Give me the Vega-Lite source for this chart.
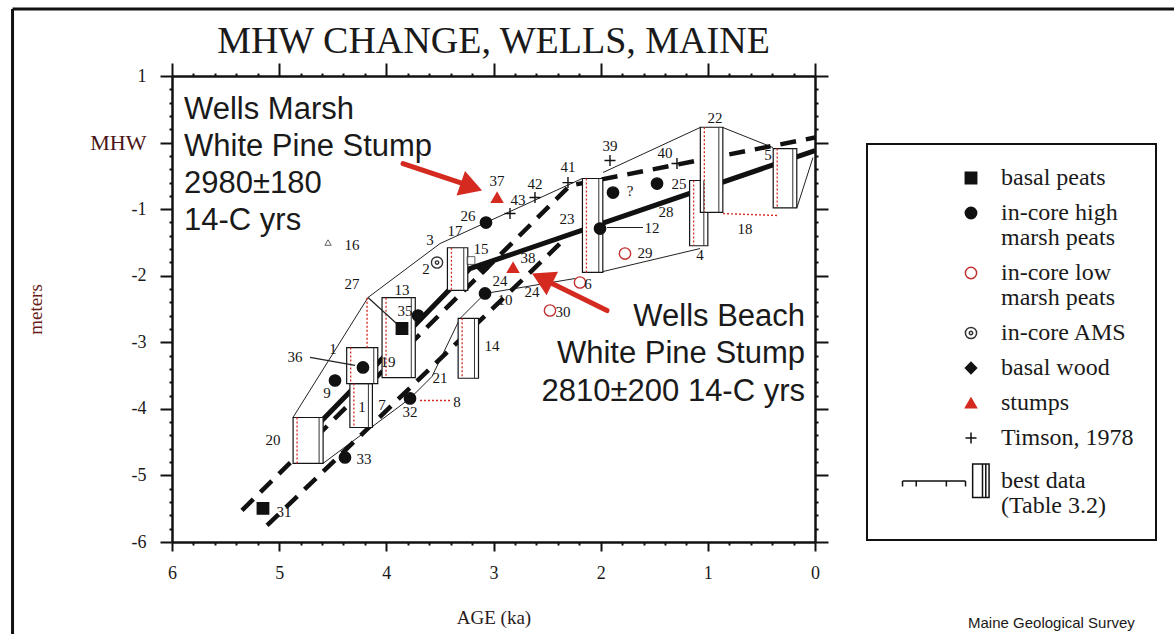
{
  "$schema": "https://vega.github.io/schema/vega-lite/v6.json",
  "width": 643,
  "height": 466,
  "autosize": {"type": "none"},
  "padding": {"left": 172, "top": 76, "right": 359, "bottom": 92},
  "background": "white",
  "title": {"text": "MHW CHANGE, WELLS, MAINE", "font": "Liberation Serif", "fontSize": 38, "fontWeight": "normal", "color": "#1a1a1a", "anchor": "middle", "offset": 5, "dy": 58},
  "config": {
    "view": {"stroke": null},
    "axis": {"grid": false, "domainColor": "#111", "domainWidth": 2.5, "tickColor": "#111", "tickWidth": 2, "labelFont": "Liberation Serif", "labelFontSize": 18, "labelColor": "#1a1a1a", "titleFont": "Liberation Serif", "titleFontSize": 19, "titleFontWeight": "normal", "labelOverlap": false, "labelFlush": false},
    "legend": {"strokeWidth": 2},
    "style": {"guide-label": {"lineHeight": 25}}
  },
  "datasets": {
    "env": [
      {"seg": "U1", "i": 0, "age": 4.871, "m": -4.129}, {"seg": "U1", "i": 1, "age": 4.171, "m": -2.327}, {"seg": "U1", "i": 2, "age": 3.499, "m": -1.517}, {"seg": "U1", "i": 3, "age": 3.07, "m": -1.201}, {"seg": "U1", "i": 4, "age": 2.174, "m": -0.541},
      {"seg": "U2", "i": 0, "age": 1.978, "m": -0.45}, {"seg": "U2", "i": 1, "age": 1.073, "m": 0.225},
      {"seg": "U3", "i": 0, "age": 0.858, "m": 0.225}, {"seg": "U3", "i": 1, "age": 0.392, "m": -0.075},
      {"seg": "L1", "i": 0, "age": 4.591, "m": -4.82}, {"seg": "L1", "i": 1, "age": 3.779, "m": -3.844}, {"seg": "L1", "i": 2, "age": 3.574, "m": -3.514}, {"seg": "L1", "i": 3, "age": 3.313, "m": -2.643}, {"seg": "L1", "i": 4, "age": 3.079, "m": -2.267}, {"seg": "L1", "i": 5, "age": 2.239, "m": -2.042},
      {"seg": "L2", "i": 0, "age": 1.978, "m": -1.937}, {"seg": "L2", "i": 1, "age": 1.073, "m": -1.592},
      {"seg": "L3", "i": 0, "age": 0.168, "m": -0.976}, {"seg": "L3", "i": 1, "age": 0.019, "m": -0.225}
    ],
    "fit": [
      {"line": "dashU", "i": 0, "age": 5.347, "m": -5.526}, {"line": "dashU", "i": 1, "age": 2.286, "m": -0.646}, {"line": "dashU", "i": 2, "age": 0, "m": 0.075},
      {"line": "dashL", "i": 0, "age": 5.113, "m": -5.751}, {"line": "dashL", "i": 1, "age": 2.379, "m": -1.517},
      {"line": "solid", "i": 0, "age": 4.637, "m": -4.234}, {"line": "solid", "i": 1, "age": 3.219, "m": -1.892}, {"line": "solid", "i": 2, "age": 0, "m": -0.12}
    ],
    "boxes": [
      {"a1": 4.87, "a2": 4.59, "m1": -4.13, "m2": -4.82},
      {"a1": 4.34, "a2": 4.13, "m1": -3.62, "m2": -4.28},
      {"a1": 4.37, "a2": 4.08, "m1": -3.08, "m2": -3.62},
      {"a1": 4.04, "a2": 3.73, "m1": -2.33, "m2": -3.53},
      {"a1": 3.43, "a2": 3.24, "m1": -1.58, "m2": -2.22},
      {"a1": 3.33, "a2": 3.14, "m1": -2.64, "m2": -3.54},
      {"a1": 2.17, "a2": 1.98, "m1": -0.54, "m2": -1.95},
      {"a1": 1.17, "a2": 1.0, "m1": -0.57, "m2": -1.55},
      {"a1": 1.07, "a2": 0.86, "m1": 0.23, "m2": -1.05},
      {"a1": 0.39, "a2": 0.17, "m1": -0.09, "m2": -0.98}
    ],
    "brackets": [
      {"a1": 3.686, "a2": 3.406, "m1": -3.874, "m2": -3.874},
      {"a1": 0.858, "a2": 0.345, "m1": -1.066, "m2": -1.096},
      {"a1": 4.18, "a2": 4.18, "m1": -2.33, "m2": -3.08}
    ],
    "pointers": [
      {"seg": "P27", "i": 0, "age": 4.171, "m": -2.327}, {"seg": "P27", "i": 1, "age": 3.854, "m": -2.793},
      {"seg": "P36", "i": 0, "age": 4.712, "m": -3.228}, {"seg": "P36", "i": 1, "age": 4.292, "m": -3.348},
      {"seg": "P12", "i": 0, "age": 1.605, "m": -1.276}, {"seg": "P12", "i": 1, "age": 1.941, "m": -1.276}
    ],
    "pts": [
      {"type": "basal peats", "age": 5.151, "m": -5.495},
      {"type": "basal peats", "age": 3.854, "m": -2.793},
      {"type": "in-core high|marsh peats", "age": 4.386, "m": -4.73},
      {"type": "in-core high|marsh peats", "age": 3.779, "m": -3.844},
      {"type": "in-core high|marsh peats", "age": 4.479, "m": -3.574},
      {"type": "in-core high|marsh peats", "age": 4.218, "m": -3.378},
      {"type": "in-core high|marsh peats", "age": 3.704, "m": -2.598},
      {"type": "in-core high|marsh peats", "age": 3.07, "m": -1.201},
      {"type": "in-core high|marsh peats", "age": 3.079, "m": -2.267},
      {"type": "in-core high|marsh peats", "age": 2.006, "m": -1.291},
      {"type": "in-core high|marsh peats", "age": 1.474, "m": -0.616},
      {"type": "in-core high|marsh peats", "age": 1.885, "m": -0.751},
      {"type": "in-core low|marsh peats", "age": 1.773, "m": -1.667},
      {"type": "in-core low|marsh peats", "age": 2.473, "m": -2.523},
      {"type": "in-core low|marsh peats", "age": 2.193, "m": -2.102},
      {"type": "in-core AMS", "age": 3.527, "m": -1.802},
      {"type": "basal wood", "age": 3.098, "m": -1.892},
      {"type": "stumps", "age": 2.967, "m": -0.826},
      {"type": "stumps", "age": 2.818, "m": -1.877},
      {"type": "Timson, 1978", "age": 2.846, "m": -1.066},
      {"type": "Timson, 1978", "age": 2.613, "m": -0.826},
      {"type": "Timson, 1978", "age": 2.305, "m": -0.601},
      {"type": "Timson, 1978", "age": 1.913, "m": -0.27},
      {"type": "Timson, 1978", "age": 1.288, "m": -0.315}
    ],
    "labs": [
      {"t": "16", "age": 4.32, "m": -1.532}, {"t": "3", "age": 3.592, "m": -1.471}, {"t": "17", "age": 3.359, "m": -1.321},
      {"t": "15", "age": 3.117, "m": -1.592}, {"t": "2", "age": 3.63, "m": -1.892}, {"t": "27", "age": 4.32, "m": -2.117},
      {"t": "13", "age": 3.854, "m": -2.222}, {"t": "35", "age": 3.826, "m": -2.523}, {"t": "1", "age": 4.498, "m": -3.108},
      {"t": "36", "age": 4.852, "m": -3.228}, {"t": "19", "age": 3.984, "m": -3.303}, {"t": "9", "age": 4.554, "m": -3.769},
      {"t": "21", "age": 3.499, "m": -3.529}, {"t": "32", "age": 3.779, "m": -4.054}, {"t": "8", "age": 3.341, "m": -3.904},
      {"t": "7", "age": 4.04, "m": -3.949}, {"t": "1", "age": 4.227, "m": -3.979}, {"t": "20", "age": 5.057, "m": -4.474},
      {"t": "33", "age": 4.208, "m": -4.76}, {"t": "31", "age": 4.955, "m": -5.556}, {"t": "37", "age": 2.967, "m": -0.571},
      {"t": "43", "age": 2.771, "m": -0.856}, {"t": "42", "age": 2.613, "m": -0.616}, {"t": "41", "age": 2.305, "m": -0.36},
      {"t": "26", "age": 3.238, "m": -1.096}, {"t": "23", "age": 2.314, "m": -1.141}, {"t": "38", "age": 2.678, "m": -1.727},
      {"t": "24", "age": 2.939, "m": -2.072}, {"t": "24", "age": 2.641, "m": -2.252}, {"t": "10", "age": 2.893, "m": -2.372},
      {"t": "30", "age": 2.351, "m": -2.538}, {"t": "6", "age": 2.118, "m": -2.117}, {"t": "39", "age": 1.913, "m": -0.045},
      {"t": "40", "age": 1.4, "m": -0.15}, {"t": "25", "age": 1.269, "m": -0.616}, {"t": "?", "age": 1.726, "m": -0.721},
      {"t": "12", "age": 1.521, "m": -1.276}, {"t": "28", "age": 1.39, "m": -1.036}, {"t": "29", "age": 1.586, "m": -1.652},
      {"t": "22", "age": 0.933, "m": 0.375}, {"t": "4", "age": 1.073, "m": -1.682}, {"t": "18", "age": 0.653, "m": -1.291},
      {"t": "5", "age": 0.439, "m": -0.18}, {"t": "14", "age": 3.014, "m": -3.063}
    ],
    "arrows": [
      {"a1": 3.844, "m1": -0.315, "a2": 3.256, "m2": -0.631},
      {"a1": 1.941, "m1": -2.523, "a2": 2.491, "m2": -2.087}
    ],
    "frame": [
      {"a1": 7.488, "a2": 7.488, "m1": 2.005, "m2": -7.4},
      {"a1": 7.488, "a2": -3.36, "m1": 2.005, "m2": 2.005}
    ]
  },
  "resolve": {"axis": {"x": "independent", "y": "independent"}},
  "layer": [
    {
      "data": {"name": "env"},
      "mark": {"type": "line", "stroke": "#222", "strokeWidth": 1},
      "encoding": {
        "x": {"field": "age", "type": "quantitative", "scale": {"domain": [0, 6], "reverse": true, "nice": false, "zero": false},
          "axis": {"orient": "bottom", "title": "AGE (ka)", "titleColor": "#2a1a1a", "values": [0,0.2,0.4,0.6,0.8,1,1.2,1.4,1.6,1.8,2,2.2,2.4,2.6,2.8,3,3.2,3.4,3.6,3.8,4,4.2,4.4,4.6,4.8,5,5.2,5.4,5.6,5.8,6],
            "labelExpr": "abs(datum.value - round(datum.value)) < 0.01 ? '' + round(datum.value) : ''",
            "tickSize": 9, "tickDash": {"condition": {"test": "abs(datum.value - round(datum.value)) > 0.01", "value": [3, 30]}, "value": []},
            "labelPadding": 13, "titlePadding": 26}},
        "y": {"field": "m", "type": "quantitative", "scale": {"domain": [-6, 1], "nice": false, "zero": false},
          "axis": {"orient": "left", "title": "meters", "titleColor": "#6a1c1c", "values": [-6,-5.8,-5.6,-5.4,-5.2,-5,-4.8,-4.6,-4.4,-4.2,-4,-3.8,-3.6,-3.4,-3.2,-3,-2.8,-2.6,-2.4,-2.2,-2,-1.8,-1.6,-1.4,-1.2,-1,-0.8,-0.6,-0.4,-0.2,0,0.2,0.4,0.6,0.8,1],
            "labelExpr": "datum.value == 0 ? 'MHW' : (abs(datum.value - round(datum.value)) < 0.01 ? '' + round(datum.value) : '')",
            "labelFontSize": {"condition": {"test": "datum.value == 0", "value": 22}, "value": 18},
            "labelColor": {"condition": {"test": "datum.value == 0", "value": "#4a1414"}, "value": "#1a1a1a"},
            "tickSize": 12, "tickDash": {"condition": {"test": "abs(datum.value - round(datum.value)) > 0.01", "value": [3, 30]}, "value": []},
            "labelPadding": 14, "titlePadding": 44}},
        "detail": {"field": "seg"},
        "order": {"field": "i"}
      }
    },
    {
      "data": {"name": "fit"},
      "transform": [{"filter": "datum.line == 'solid'"}],
      "mark": {"type": "line", "stroke": "#111", "strokeWidth": 5},
      "encoding": {
        "x": {"field": "age", "type": "quantitative",
          "axis": {"orient": "top", "title": null, "labels": false, "values": [0,0.2,0.4,0.6,0.8,1,1.2,1.4,1.6,1.8,2,2.2,2.4,2.6,2.8,3,3.2,3.4,3.6,3.8,4,4.2,4.4,4.6,4.8,5,5.2,5.4,5.6,5.8,6],
            "tickSize": 13, "tickDash": {"condition": {"test": "abs(datum.value - round(datum.value)) > 0.01", "value": [3, 30]}, "value": []}}},
        "y": {"field": "m", "type": "quantitative",
          "axis": {"orient": "right", "title": null, "labels": false, "values": [-6,-5.8,-5.6,-5.4,-5.2,-5,-4.8,-4.6,-4.4,-4.2,-4,-3.8,-3.6,-3.4,-3.2,-3,-2.8,-2.6,-2.4,-2.2,-2,-1.8,-1.6,-1.4,-1.2,-1,-0.8,-0.6,-0.4,-0.2,0,0.2,0.4,0.6,0.8,1],
            "tickSize": 13, "tickDash": {"condition": {"test": "abs(datum.value - round(datum.value)) > 0.01", "value": [3, 30]}, "value": []}}},
        "order": {"field": "i"}
      }
    },
    {
      "data": {"name": "fit"},
      "transform": [{"filter": "datum.line != 'solid'"}],
      "mark": {"type": "line", "stroke": "#111", "strokeWidth": 4.5, "strokeDash": [16, 10]},
      "encoding": {
        "x": {"field": "age", "type": "quantitative", "axis": null},
        "y": {"field": "m", "type": "quantitative", "axis": null},
        "detail": {"field": "line"},
        "order": {"field": "i"}
      }
    },
    {
      "data": {"name": "boxes"},
      "mark": {"type": "rect", "fill": "white", "stroke": "#151515", "strokeWidth": 1.2},
      "encoding": {
        "x": {"field": "a1", "type": "quantitative", "axis": null},
        "x2": {"field": "a2"},
        "y": {"field": "m1", "type": "quantitative", "axis": null},
        "y2": {"field": "m2"}
      }
    },
    {
      "data": {"name": "boxes"},
      "mark": {"type": "rule", "stroke": "#d42a20", "strokeWidth": 1.3, "strokeDash": [2, 2], "xOffset": 4},
      "encoding": {
        "x": {"field": "a1", "type": "quantitative", "axis": null},
        "y": {"field": "m1", "type": "quantitative", "axis": null},
        "y2": {"field": "m2"}
      }
    },
    {
      "data": {"name": "boxes"},
      "mark": {"type": "rule", "stroke": "#333", "strokeWidth": 1, "xOffset": -4},
      "encoding": {
        "x": {"field": "a2", "type": "quantitative", "axis": null},
        "y": {"field": "m1", "type": "quantitative", "axis": null},
        "y2": {"field": "m2"}
      }
    },
    {
      "data": {"name": "brackets"},
      "mark": {"type": "rule", "stroke": "#d42a20", "strokeWidth": 1.4, "strokeDash": [2, 2]},
      "encoding": {
        "x": {"field": "a1", "type": "quantitative", "axis": null},
        "x2": {"field": "a2"},
        "y": {"field": "m1", "type": "quantitative", "axis": null},
        "y2": {"field": "m2"}
      }
    },
    {
      "data": {"name": "pointers"},
      "mark": {"type": "line", "stroke": "#222", "strokeWidth": 1.2},
      "encoding": {
        "x": {"field": "age", "type": "quantitative", "axis": null},
        "y": {"field": "m", "type": "quantitative", "axis": null},
        "detail": {"field": "seg"},
        "order": {"field": "i"}
      }
    },
    {
      "data": {"values": [{"age": 4.544, "m": -1.502}]},
      "mark": {"type": "point", "shape": "triangle-up", "size": 40, "stroke": "#222", "strokeWidth": 1, "fill": "white", "filled": false},
      "encoding": {
        "x": {"field": "age", "type": "quantitative", "axis": null},
        "y": {"field": "m", "type": "quantitative", "axis": null}
      }
    },
    {
      "data": {"values": [{"age": 3.21, "m": -1.772}]},
      "mark": {"type": "point", "shape": "square", "size": 60, "stroke": "#222", "strokeWidth": 1, "fill": "white", "filled": false},
      "encoding": {
        "x": {"field": "age", "type": "quantitative", "axis": null},
        "y": {"field": "m", "type": "quantitative", "axis": null}
      }
    },
    {
      "data": {"name": "pts"},
      "mark": {"type": "point", "filled": true, "opacity": 1, "strokeWidth": 1.4},
      "encoding": {
        "x": {"field": "age", "type": "quantitative", "axis": null},
        "y": {"field": "m", "type": "quantitative", "axis": null},
        "shape": {"field": "type", "type": "nominal",
          "scale": {"domain": ["basal peats", "in-core high|marsh peats", "in-core low|marsh peats", "in-core AMS", "basal wood", "stumps", "Timson, 1978", "best data|(Table 3.2)"],
            "range": ["square", "circle", "circle", "M-1,0A1,1,0,1,0,1,0A1,1,0,1,0,-1,0ZM-0.3,0A0.3,0.3,0,1,0,0.3,0A0.3,0.3,0,1,0,-0.3,0Z", "diamond", "triangle-up", "M-1,0H1M0,-1V1", "M-12.5,0H-1M-12.5,0V1M-10,0V1M-4.5,0V1M-1,0V1M0.3,-3.1H3.3V3H0.3ZM2.1,-3.1V3M2.7,-3.1V3"]},
          "legend": {"title": null, "orient": "none", "legendX": 695, "legendY": 68, "padding": 22, "strokeColor": "#111", "symbolOffset": 70, "labelOffset": 18, "rowPadding": 11, "labelFont": "Liberation Serif", "labelFontSize": 24, "labelColor": "#1a1a1a", "labelLimit": 300, "symbolStrokeWidth": 1.5, "labelExpr": "split(datum.label, '|')"}},
        "fill": {"field": "type", "type": "nominal",
          "scale": {"domain": ["basal peats", "in-core high|marsh peats", "in-core low|marsh peats", "in-core AMS", "basal wood", "stumps", "Timson, 1978", "best data|(Table 3.2)"],
            "range": ["#111", "#111", "transparent", "transparent", "#111", "#d42a20", "transparent", "transparent"]},
          "legend": {"title": null, "orient": "none", "legendX": 695, "legendY": 68, "padding": 22, "strokeColor": "#111", "symbolOffset": 70, "labelOffset": 18, "rowPadding": 11, "labelFont": "Liberation Serif", "labelFontSize": 24, "labelColor": "#1a1a1a", "labelLimit": 300, "symbolStrokeWidth": 1.5, "labelExpr": "split(datum.label, '|')"}},
        "stroke": {"field": "type", "type": "nominal",
          "scale": {"domain": ["basal peats", "in-core high|marsh peats", "in-core low|marsh peats", "in-core AMS", "basal wood", "stumps", "Timson, 1978", "best data|(Table 3.2)"],
            "range": ["#111", "#111", "#c03030", "#333", "#111", "#d42a20", "#111", "#111"]},
          "legend": {"title": null, "orient": "none", "legendX": 695, "legendY": 68, "padding": 22, "strokeColor": "#111", "symbolOffset": 70, "labelOffset": 18, "rowPadding": 11, "labelFont": "Liberation Serif", "labelFontSize": 24, "labelColor": "#1a1a1a", "labelLimit": 300, "symbolStrokeWidth": 1.5, "labelExpr": "split(datum.label, '|')"}},
        "size": {"field": "type", "type": "nominal",
          "scale": {"domain": ["basal peats", "in-core high|marsh peats", "in-core low|marsh peats", "in-core AMS", "basal wood", "stumps", "Timson, 1978", "best data|(Table 3.2)"],
            "range": [130, 120, 50, 60, 130, 150, 180, 144]},
          "legend": {"title": null, "orient": "none", "legendX": 695, "legendY": 68, "padding": 22, "strokeColor": "#111", "symbolOffset": 70, "labelOffset": 18, "rowPadding": 11, "labelFont": "Liberation Serif", "labelFontSize": 24, "labelColor": "#1a1a1a", "labelLimit": 300, "symbolStrokeWidth": 1.5, "labelExpr": "split(datum.label, '|')"}}
      }
    },
    {
      "data": {"name": "labs"},
      "mark": {"type": "text", "font": "Liberation Serif", "fontSize": 15, "fill": "#151515", "align": "center", "baseline": "middle"},
      "encoding": {
        "x": {"field": "age", "type": "quantitative", "axis": null},
        "y": {"field": "m", "type": "quantitative", "axis": null},
        "text": {"field": "t"}
      }
    },
    {
      "data": {"values": [{"t": "Wells Marsh|White Pine Stump|2980±180|14-C yrs", "age": 5.888, "m": 0.36}]},
      "mark": {"type": "text", "font": "Liberation Sans", "fontSize": 31, "fill": "#1a1a1a", "align": "left", "baseline": "alphabetic", "lineBreak": "|", "lineHeight": 37},
      "encoding": {
        "x": {"field": "age", "type": "quantitative", "axis": null},
        "y": {"field": "m", "type": "quantitative", "axis": null},
        "text": {"field": "t"}
      }
    },
    {
      "data": {"values": [{"t": "Wells Beach|White Pine Stump|2810±200 14-C yrs", "age": 0.093, "m": -2.748}]},
      "mark": {"type": "text", "font": "Liberation Sans", "fontSize": 31, "fill": "#1a1a1a", "align": "right", "baseline": "alphabetic", "lineBreak": "|", "lineHeight": 37.5},
      "encoding": {
        "x": {"field": "age", "type": "quantitative", "axis": null},
        "y": {"field": "m", "type": "quantitative", "axis": null},
        "text": {"field": "t"}
      }
    },
    {
      "data": {"name": "arrows"},
      "mark": {"type": "rule", "stroke": "#d42a20", "strokeWidth": 5, "strokeCap": "round"},
      "encoding": {
        "x": {"field": "a1", "type": "quantitative", "axis": null},
        "x2": {"field": "a2"},
        "y": {"field": "m1", "type": "quantitative", "axis": null},
        "y2": {"field": "m2"}
      }
    },
    {
      "data": {"values": [{"age": 3.206, "m": -0.665}]},
      "mark": {"type": "point", "shape": "triangle-right", "size": 676, "angle": 19, "filled": true, "fill": "#d42a20", "opacity": 1},
      "encoding": {
        "x": {"field": "age", "type": "quantitative", "axis": null},
        "y": {"field": "m", "type": "quantitative", "axis": null}
      }
    },
    {
      "data": {"values": [{"age": 2.546, "m": -2.042}]},
      "mark": {"type": "point", "shape": "triangle-right", "size": 676, "angle": 206, "filled": true, "fill": "#d42a20", "opacity": 1},
      "encoding": {
        "x": {"field": "age", "type": "quantitative", "axis": null},
        "y": {"field": "m", "type": "quantitative", "axis": null}
      }
    },
    {
      "data": {"name": "frame"},
      "mark": {"type": "rule", "stroke": "#111", "strokeWidth": 3},
      "encoding": {
        "x": {"field": "a1", "type": "quantitative", "axis": null},
        "x2": {"field": "a2"},
        "y": {"field": "m1", "type": "quantitative", "axis": null},
        "y2": {"field": "m2"}
      }
    },
    {
      "data": {"values": [{"t": "Maine Geological Survey", "age": -1.428, "m": -7.297}]},
      "mark": {"type": "text", "font": "Liberation Sans", "fontSize": 15, "fill": "#1a1a1a", "align": "left", "baseline": "alphabetic"},
      "encoding": {
        "x": {"field": "age", "type": "quantitative", "axis": null},
        "y": {"field": "m", "type": "quantitative", "axis": null},
        "text": {"field": "t"}
      }
    }
  ]
}
